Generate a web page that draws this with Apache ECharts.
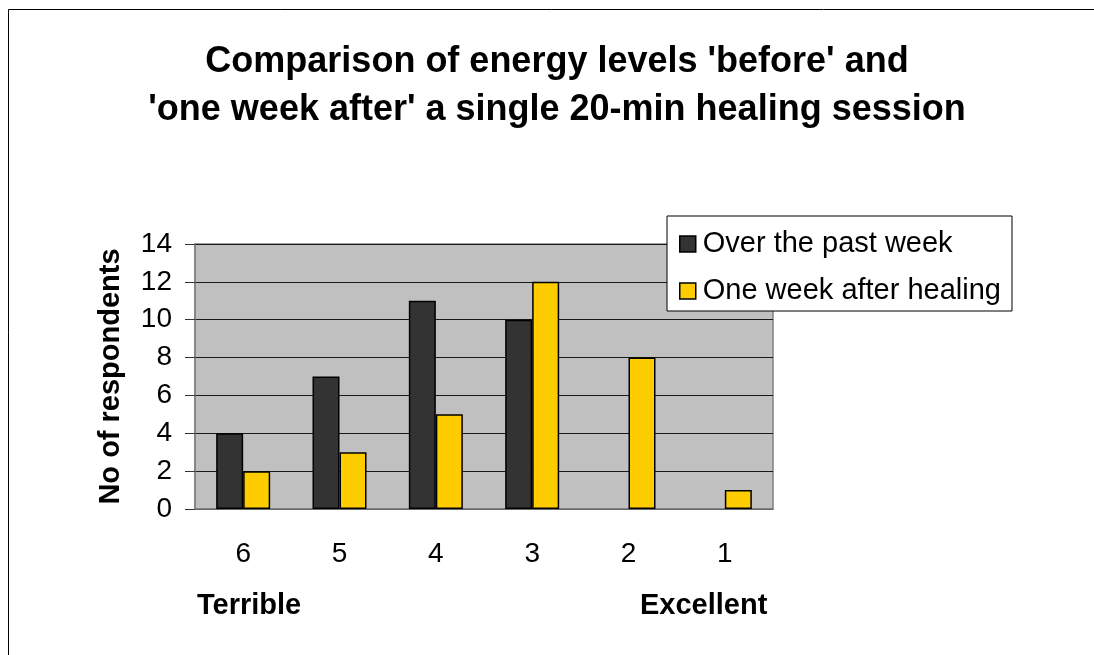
<!DOCTYPE html>
<html>
<head>
<meta charset="utf-8">
<script src="https://cdn.jsdelivr.net/npm/echarts@6/dist/echarts.min.js"></script>
<style>
  html, body { margin: 0; padding: 0; background: #fff; }
  #chart { width: 1094px; height: 655px; }
</style>
</head>
<body>
<div id="chart"></div>
<script>
  // energy rating, 6 = terrible ... 1 = excellent
  var categories = ['6', '5', '4', '3', '2', '1'];
  var pastWeek = [4, 7, 11, 10, 0, 0];
  var afterHealing = [2, 3, 5, 12, 8, 1];
  var yTicks = [0, 2, 4, 6, 8, 10, 12, 14];

  var chart = echarts.init(document.getElementById('chart'));
  var font = '"Liberation Sans", Arial, sans-serif';

  // zero bars get no outline, like the original
  function barData(arr) {
    return arr.map(function (v) {
      return v === 0 ? { value: v, itemStyle: { borderWidth: 0 } } : v;
    });
  }

  chart.setOption({
    animation: false,
    textStyle: { fontFamily: font },
    title: {
      text: "Comparison of energy levels 'before' and\n'one week after' a single 20-min healing session",
      left: 557,
      top: 38,
      padding: 0,
      textAlign: 'center',
      textStyle: { fontFamily: font, fontSize: 36, fontWeight: 'bold', color: '#000', lineHeight: 48 }
    },
    legend: {
      orient: 'vertical',
      left: 667,
      top: 216,
      padding: [13, 11, 5, 12],
      itemGap: 17,
      itemWidth: 16,
      itemHeight: 16,
      borderColor: '#000',
      borderWidth: 1,
      backgroundColor: '#fff',
      icon: 'rect',
      itemStyle: { borderColor: '#000', borderWidth: 1.5 },
      textStyle: { fontFamily: font, fontSize: 29, color: '#000', lineHeight: 30, padding: [0, 0, 0, 2] },
      data: ['Over the past week', 'One week after healing']
    },
    grid: {
      left: 195,
      right: 321,
      top: 244,
      bottom: 146,
      show: true,
      backgroundColor: '#c0c0c0',
      borderColor: '#808080',
      borderWidth: 1.5
    },
    xAxis: {
      type: 'category',
      data: categories,
      axisLine: { lineStyle: { color: '#808080', width: 1.5 } },
      axisTick: { length: 9, lineStyle: { color: '#333', width: 1 } },
      axisLabel: { fontFamily: font, fontSize: 28, color: '#000', margin: 31 }
    },
    yAxis: {
      type: 'value',
      min: 0,
      max: 14,
      interval: 2,
      name: 'No of respondents',
      nameLocation: 'middle',
      nameRotate: 90,
      nameGap: 70,
      nameTextStyle: { fontFamily: font, fontSize: 29, fontWeight: 'bold', color: '#000' },
      axisLine: { show: true, lineStyle: { color: '#808080', width: 1.5 } },
      axisTick: { show: true, length: 10, lineStyle: { color: '#333', width: 1 } },
      axisLabel: {
        fontFamily: font, fontSize: 28, color: '#000', margin: 23,
        formatter: function (v) { return yTicks.indexOf(v) >= 0 ? String(v) : ''; }
      },
      splitLine: { lineStyle: { color: '#1a1a1a', width: 1 } }
    },
    series: [
      {
        name: 'Over the past week',
        type: 'bar',
        data: barData(pastWeek),
        barWidth: 27,
        barGap: '0%',
        itemStyle: { color: '#333333', borderColor: '#000', borderWidth: 1.5 }
      },
      {
        name: 'One week after healing',
        type: 'bar',
        data: barData(afterHealing),
        barWidth: 27,
        barGap: '0%',
        itemStyle: { color: '#ffcc00', borderColor: '#000', borderWidth: 1.5 }
      }
    ],
    graphic: [
      {
        type: 'rect',
        shape: { x: 8.5, y: 9.5, width: 1200, height: 1000 },
        style: { fill: 'none', stroke: '#000', lineWidth: 1 },
        silent: true
      },
      {
        type: 'text', left: 197, top: 591,
        style: { text: 'Terrible', font: 'bold 29px ' + font, fill: '#000' }
      },
      {
        type: 'text', left: 640, top: 591,
        style: { text: 'Excellent', font: 'bold 29px ' + font, fill: '#000' }
      }
    ]
  });
</script>
</body>
</html>
